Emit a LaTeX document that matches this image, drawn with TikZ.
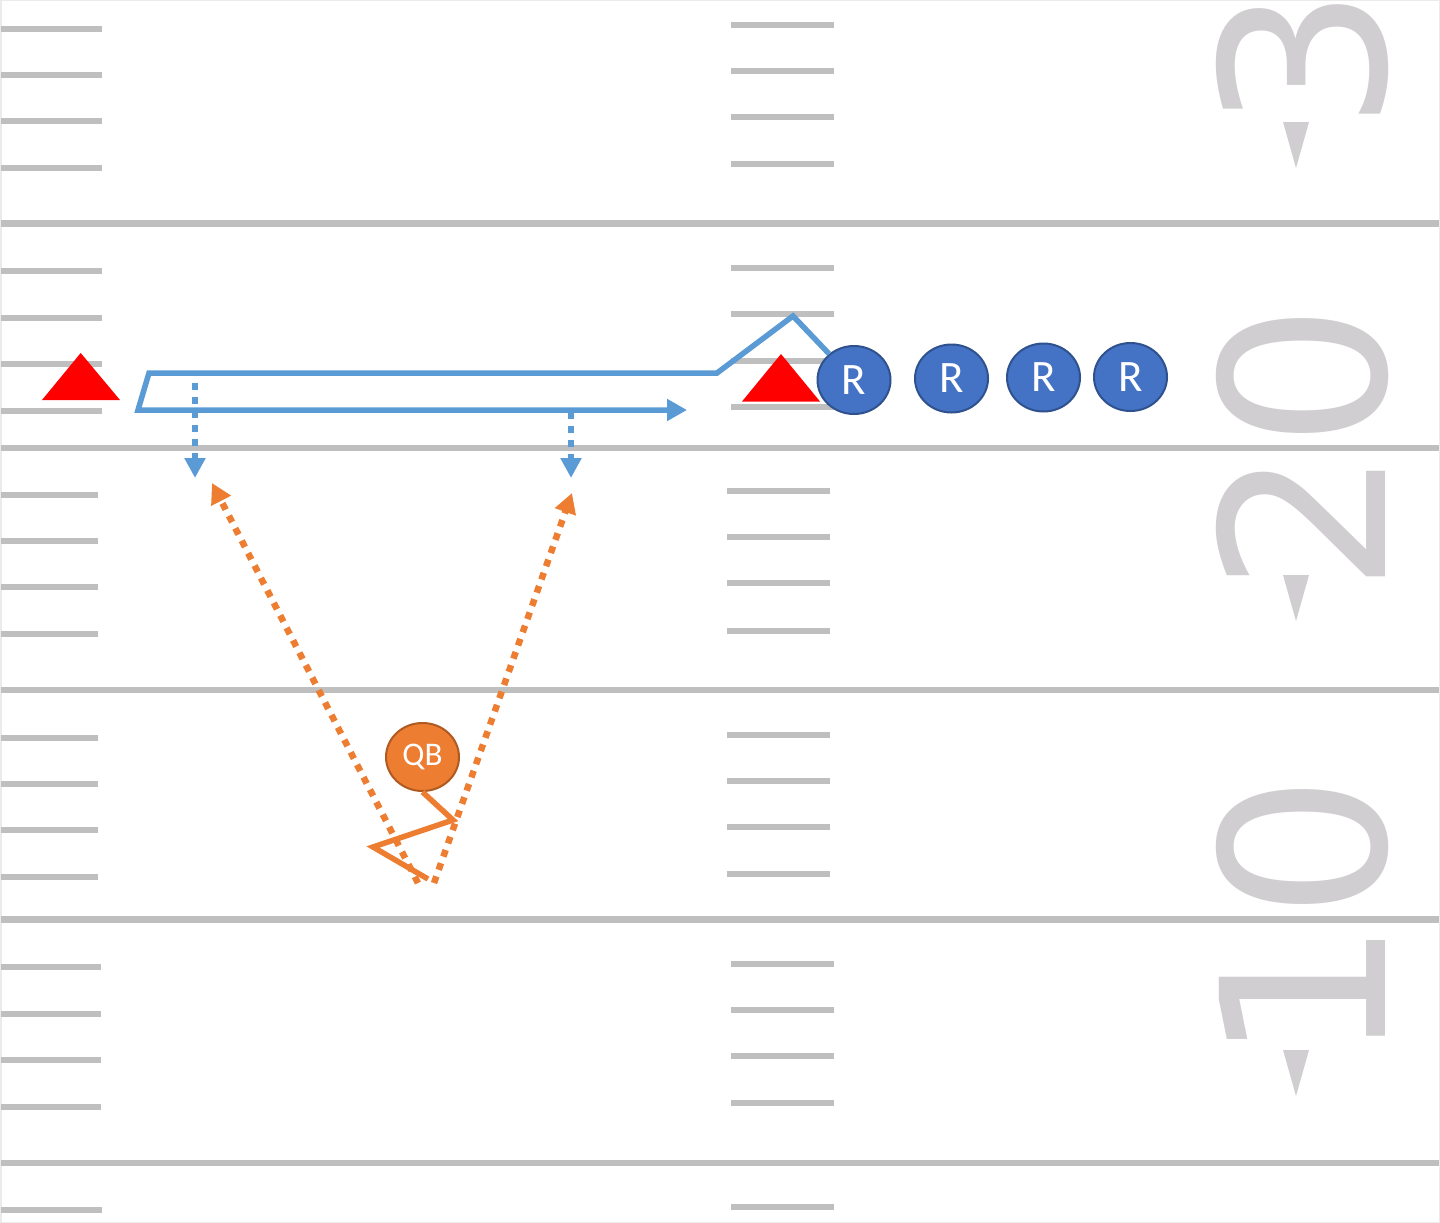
\documentclass[tikz,border=0pt]{standalone}
\usepackage{fontspec}
\usetikzlibrary{arrows.meta,shapes.geometric}
\newfontfamily\numfont{DejaVu Sans}
\newfontfamily\plfont{Carlito}
\definecolor{fieldgray}{HTML}{BFBFBF}
\definecolor{numgray}{HTML}{D0CED0}
\definecolor{routeblue}{HTML}{5B9BD5}
\definecolor{playerblue}{HTML}{4472C4}
\definecolor{playerborder}{HTML}{2F528F}
\definecolor{qborange}{HTML}{ED7D31}
\definecolor{qbborder}{HTML}{AE5A21}
\definecolor{conered}{HTML}{FF0000}
\begin{document}
\begin{tikzpicture}[x=1pt,y=-1pt,
  yardline/.style={draw=fieldgray, line width=6.5pt},
  hashmark/.style={draw=fieldgray, line width=6pt},
  yardnum/.style={rotate=90, inner sep=0pt, text=numgray,
    font=\fontsize{228}{228}\selectfont\numfont},
  receiver/.style={ellipse, draw=playerborder, line width=2pt, fill=playerblue,
    minimum width=73pt, minimum height=68pt, inner sep=0pt, text=white,
    font=\fontsize{45}{45}\selectfont\plfont},
  qbnode/.style={ellipse, draw=qbborder, line width=2pt, fill=qborange,
    minimum width=73pt, minimum height=68pt, inner sep=0pt, text=white,
    font=\fontsize{33}{33}\selectfont\plfont},
  route/.style={draw=routeblue, line width=5.5pt, line join=miter},
  bluedot/.style={draw=routeblue, line width=6pt, dash pattern=on 7pt off 7pt,
    -{Triangle[length=20pt,width=20pt]}},
  orangedot/.style={draw=qborange, line width=6.5pt, dash pattern=on 7pt off 7pt,
    -{Triangle[length=20pt,width=21pt]}},
  qbroute/.style={draw=qborange, line width=5.5pt, line join=miter},
]
\fill[white] (0,0) rectangle (1440,1223);
\useasboundingbox (0,0) rectangle (1440,1223);
\draw[black!8, line width=1.5pt] (0.75,0.75) rectangle (1439.25,1222.25);

% yard lines
\foreach \y in {223.5,448,690,919.5,1163}
  \draw[yardline] (1,\y) -- (1439,\y);

% left hash marks
\foreach \y in {29.5,75,121,168,271,318,364,411,1210}
  \draw[hashmark] (1,\y) -- (102,\y);
\foreach \y in {495,541,587,634,738,784,830,877}
  \draw[hashmark] (1,\y) -- (98,\y);
\foreach \y in {967,1014,1060,1107}
  \draw[hashmark] (1,\y) -- (101,\y);

% middle hash marks
\foreach \y in {25,71,117,164,268,314,361,407,964,1010,1056,1103,1207}
  \draw[hashmark] (731,\y) -- (834,\y);
\foreach \y in {491,537,583,631,735,781,827,874}
  \draw[hashmark] (727,\y) -- (830,\y);

% yard numbers
\node[yardnum] (n3) at (1302,59) {3};
\node[yardnum] (n20) at (1302,448) {20};
\node[yardnum] (n10) at (1302,919) {10};
\foreach \y in {122,575,1050}
  \fill[numgray] (1283,\y) -- (1309,\y) -- (1296,\y+46) -- cycle;

% cones
\fill[conered] (80.7,353) -- (120,400) -- (42,400) -- cycle;
\fill[conered] (781,354) -- (820,401.5) -- (742,401.5) -- cycle;

% players
\node[receiver] (R1) at (854,380) {R};
\node[receiver] (R2) at (951.5,378.5) {R};
\node[receiver] (R3) at (1043.5,377.5) {R};
\node[receiver] (R4) at (1130.5,377) {R};
\node[qbnode] (QB) at (422.5,757) {QB};

% receiver route
\coordinate (b1) at (793,316);
\coordinate (b2) at (717,373);
\coordinate (b3) at (149,373);
\coordinate (b4) at (138,410);
\coordinate (b5) at (687,410);
\draw[route,-{Triangle[length=20pt,width=21pt]}] (R1) -- (b1) -- (b2) -- (b3) -- (b4) -- (b5);

% break-off options
\coordinate (d1s) at (195,383);
\coordinate (d1e) at (195,478);
\coordinate (d2s) at (571,412);
\coordinate (d2e) at (571,478);
\draw[bluedot] (d1s) -- (d1e);
\draw[bluedot] (d2s) -- (d2e);

% QB drop
\coordinate (q1) at (453,820);
\coordinate (q2) at (373,847);
\coordinate (q3) at (428,879);
\draw[qbroute] (QB.south) -- (q1) -- (q2) -- (q3);

% passes
\coordinate (o1s) at (418,883);
\coordinate (o1e) at (212,483);
\coordinate (o2s) at (434,883);
\coordinate (o2e) at (572,493);
\draw[orangedot] (o1s) -- (o1e);
\draw[orangedot] (o2s) -- (o2e);
\end{tikzpicture}
\end{document}
